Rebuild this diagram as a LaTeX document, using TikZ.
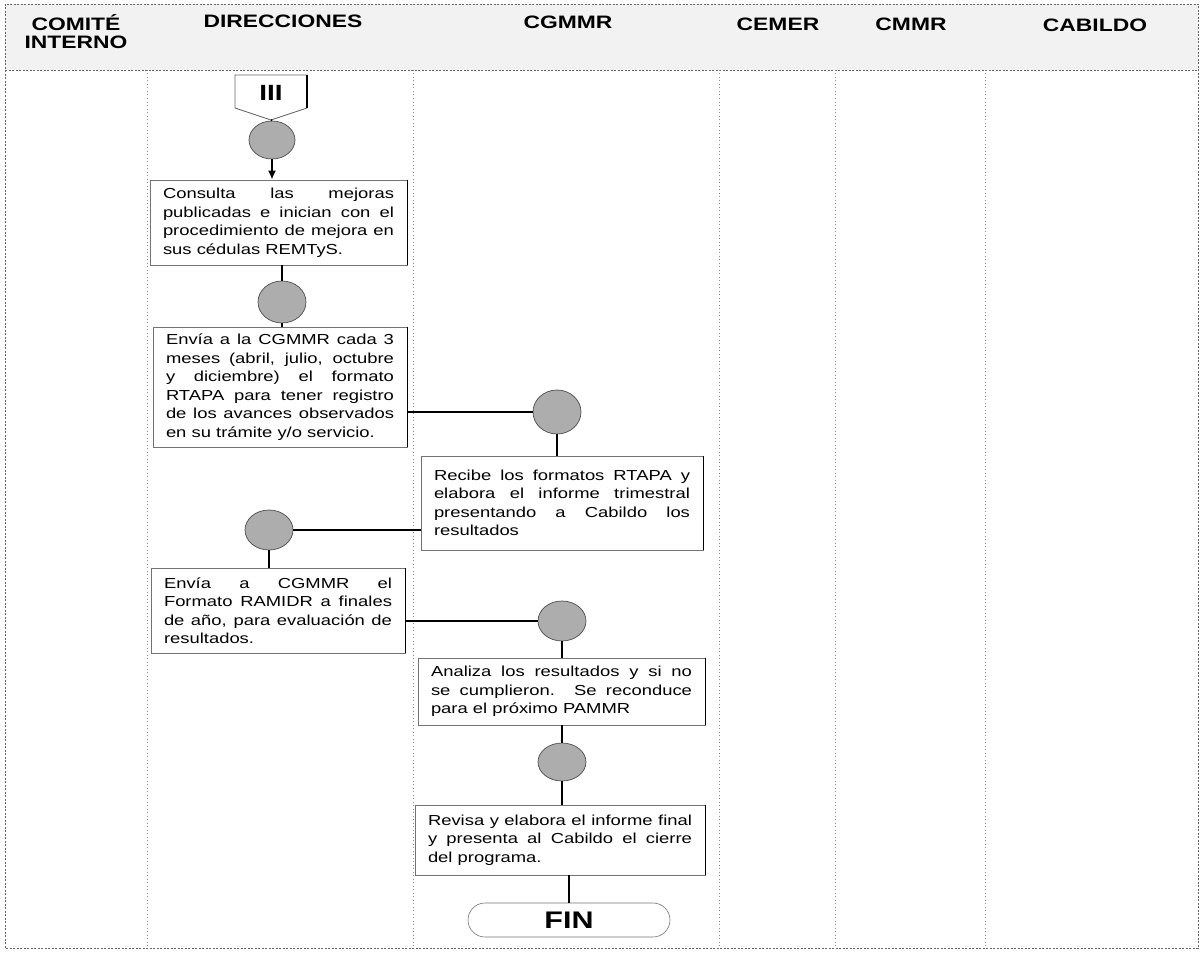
\documentclass[tikz,border=0pt]{standalone}
\usepackage{fontspec}
\usetikzlibrary{shapes.geometric,arrows.meta}
\newfontfamily\boxfont[FakeStretch=1.27]{Liberation Sans}
\newfontfamily\headfont[FakeStretch=1.27]{Liberation Sans}
\begin{document}
\begin{tikzpicture}[x=1pt,y=-1pt,
  lane/.style={draw=black!45, line width=0.7pt, dash pattern=on 1pt off 2.5pt},
  frame/.style={draw=black!60, line width=0.8pt, dash pattern=on 2pt off 1.5pt},
  proc/.style={draw=black!55, line width=0.6pt, align=justify, inner xsep=13pt, inner ysep=0pt,
    font=\boxfont\fontsize{14.5}{18.5}\selectfont,
    execute at begin node={\tolerance=10000\hyphenpenalty=10000\hbadness=10000}},
  conn/.style={ellipse, draw=black!70, fill=black!32, line width=0.7pt, minimum width=48pt, minimum height=42pt, inner sep=0pt},
  flow/.style={line width=1.8pt, black},
  hdr/.style={font=\headfont\bfseries\fontsize{18}{18}\selectfont, align=center, inner sep=0pt},
  edge/.style={line width=1.3pt, black}
]
\useasboundingbox (0,0) rectangle (1200,958);
% header band and frame
\fill[black!5] (5,4) rectangle (1198,70);
\draw[frame] (5,4) rectangle (1198,948);
\draw[frame] (5,70) -- (1198,70);
% lane dividers
\foreach \x in {147,413,719,835,985} \draw[lane] (\x,70) -- (\x,948);
% headers
\node[hdr] (hcom) at (76,32) {COMITÉ\\INTERNO};
\node[hdr] (hdir) at (283,21) {DIRECCIONES};
\node[hdr] (hcgm) at (568,22) {CGMMR};
\node[hdr] (hcem) at (778,24) {CEMER};
\node[hdr] (hcmm) at (911,24) {CMMR};
\node[hdr] (hcab) at (1095,25) {CABILDO};
% off-page connector
\draw[black!60, line width=0.8pt] (235,75) -- (307,75) -- (307,108) -- (271,120) -- (235,108) -- cycle;
\draw[edge] (307,75) -- (307,108);
\node[font=\headfont\bfseries\fontsize{22}{22}\selectfont, inner sep=0pt] (iii) at (271,93) {III};
\coordinate (iiitip) at (271,120);
% connectors (circles)
\node[conn, minimum width=46pt, minimum height=38pt] (c1) at (272,140) {};
\node[conn] (c2) at (282,302) {};
\node[conn, minimum height=44pt] (c3) at (557,412) {};
\node[conn, minimum height=40pt] (c4) at (269,530) {};
\node[conn, minimum height=40pt] (c5) at (562,621) {};
\node[conn, minimum height=38pt] (c6) at (562,762) {};
% process boxes
\node[proc, text width=231pt, minimum height=85pt] (cons) at (278.5,222.5)
 {Consulta las mejoras\linebreak publicadas e inician con el\linebreak procedimiento de mejora en\linebreak sus cédulas REMTyS.};
\node[proc, text width=228pt, minimum height=120pt] (env1) at (280,387)
 {Envía a la CGMMR cada 3\linebreak meses (abril, julio, octubre\linebreak y diciembre) el formato\linebreak RTAPA para tener registro\linebreak de los avances observados\linebreak en su trámite y/o servicio.};
\node[proc, text width=256pt, minimum height=94pt] (rec) at (562,503)
 {Recibe los formatos RTAPA y\linebreak elabora el informe trimestral\linebreak presentando a Cabildo los\linebreak resultados};
\node[proc, text width=228pt, minimum height=85pt] (env2) at (278,610.5)
 {Envía a CGMMR el\linebreak Formato RAMIDR a finales\linebreak de año, para evaluación de\linebreak resultados.};
\node[proc, text width=261pt, minimum height=67pt] (ana) at (561.5,691.5)
 {Analiza los resultados y si no\linebreak se cumplieron. Se reconduce\linebreak para el próximo PAMMR};
\node[proc, text width=264pt, minimum height=70pt] (rev) at (560,840)
 {Revisa y elabora el informe final\linebreak y presenta al Cabildo el cierre\linebreak del programa.};
\node[draw=black!55, line width=0.6pt, rounded corners=17pt, minimum width=202pt, minimum height=34pt,
  font=\headfont\bfseries\fontsize{24}{24}\selectfont, inner sep=0pt] (fin) at (569,920) {FIN};
% heavier right edges of the boxes
\foreach \n in {cons,env1,rec,env2,ana,rev} \draw[edge] (\n.north east) -- (\n.south east);
% flow
\draw[flow] (iiitip) -- (c1.north);
\draw[flow, -{Latex[length=9pt,width=8pt]}] (c1.south) -- (cons.north -| c1);
\draw[flow] (cons.south -| c2) -- (c2.north);
\draw[flow] (c2.south) -- (env1.north -| c2);
\draw[flow, line width=1.2pt] (env1.east |- c3) -- (c3.west);
\draw[flow] (c3.south) -- (rec.north -| c3);
\draw[flow, line width=1.2pt] (rec.west |- c4) -- (c4.east);
\draw[flow] (c4.south) -- (env2.north -| c4);
\draw[flow, line width=1.2pt] (env2.east |- c5) -- (c5.west);
\draw[flow] (c5.south) -- (ana.north -| c5);
\draw[flow] (ana.south -| c6) -- (c6.north);
\draw[flow] (c6.south) -- (rev.north -| c6);
\draw[flow] (rev.south -| fin) -- (fin.north);
\end{tikzpicture}
\end{document}
